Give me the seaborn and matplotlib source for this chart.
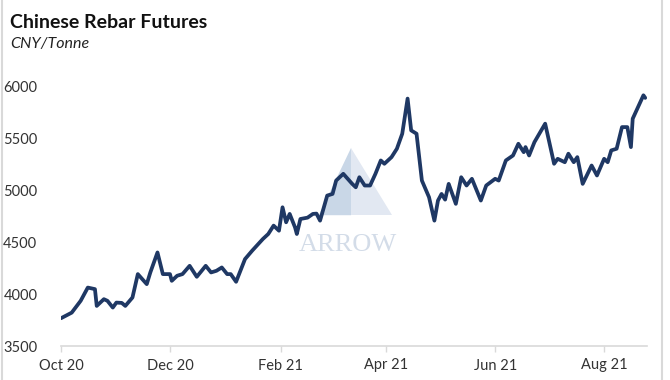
import matplotlib.pyplot as plt
from matplotlib.patches import Polygon
from matplotlib.lines import Line2D
import seaborn as sns
import pandas as pd

# Rebar futures, CNY per tonne
dates = [
    "2020-10-01", "2020-10-07", "2020-10-12", "2020-10-16", "2020-10-20", "2020-10-21",
    "2020-10-25", "2020-10-27", "2020-10-30", "2020-11-01", "2020-11-04", "2020-11-06",
    "2020-11-10", "2020-11-13", "2020-11-18", "2020-11-20", "2020-11-24", "2020-11-27",
    "2020-12-01", "2020-12-02", "2020-12-05", "2020-12-08", "2020-12-12", "2020-12-16",
    "2020-12-21", "2020-12-24", "2020-12-27", "2020-12-30", "2021-01-02", "2021-01-04",
    "2021-01-07", "2021-01-12", "2021-01-16", "2021-01-22", "2021-01-25", "2021-01-28",
    "2021-01-31", "2021-02-02", "2021-02-04", "2021-02-06", "2021-02-09", "2021-02-10",
    "2021-02-12", "2021-02-16", "2021-02-19", "2021-02-21", "2021-02-23", "2021-02-27",
    "2021-03-02", "2021-03-04", "2021-03-08", "2021-03-13", "2021-03-15", "2021-03-17",
    "2021-03-20", "2021-03-23", "2021-03-26", "2021-03-29", "2021-03-31", "2021-04-04",
    "2021-04-07", "2021-04-10", "2021-04-13", "2021-04-15", "2021-04-18", "2021-04-21",
    "2021-04-25", "2021-04-28", "2021-04-30", "2021-05-02", "2021-05-04", "2021-05-06",
    "2021-05-10", "2021-05-13", "2021-05-16", "2021-05-19", "2021-05-24", "2021-05-27",
    "2021-06-01", "2021-06-03", "2021-06-07", "2021-06-11", "2021-06-14", "2021-06-17",
    "2021-06-18", "2021-06-20", "2021-06-23", "2021-06-29", "2021-07-04", "2021-07-06",
    "2021-07-10", "2021-07-12", "2021-07-15", "2021-07-17", "2021-07-20", "2021-07-25",
    "2021-07-28", "2021-08-01", "2021-08-03", "2021-08-05", "2021-08-08", "2021-08-11",
    "2021-08-14", "2021-08-16", "2021-08-17", "2021-08-23", "2021-08-24",
]
prices = [
    3768, 3822, 3936, 4064, 4049, 3887,
    3952, 3936, 3871, 3919, 3916, 3887,
    3968, 4194, 4097, 4210, 4403, 4194,
    4194, 4129, 4178, 4194, 4274, 4168,
    4274, 4210, 4226, 4258, 4194, 4194,
    4120, 4339, 4420, 4533, 4581, 4662,
    4613, 4839, 4694, 4775, 4645, 4581,
    4726, 4739, 4775, 4778, 4710, 4952,
    4968, 5097, 5162, 5065, 5032, 5129,
    5049, 5049, 5162, 5291, 5259, 5323,
    5404, 5549, 5888, 5581, 5549, 5097,
    4936, 4710, 4904, 4968, 4913, 5065,
    4872, 5129, 5049, 5114, 4904, 5049,
    5114, 5097, 5291, 5339, 5452, 5371,
    5420, 5339, 5468, 5646, 5259, 5307,
    5274, 5356, 5274, 5323, 5065, 5242,
    5146, 5307, 5274, 5388, 5404, 5613,
    5613, 5420, 5694, 5920, 5895,
]
tick_dates = ["2020-10-01", "2020-12-01", "2021-02-01", "2021-04-01", "2021-06-01", "2021-08-01"]
tick_labels = ["Oct 20", "Dec 20", "Feb 21", "Apr 21", "Jun 21", "Aug 21"]
y_ticks = [3500, 4000, 4500, 5000, 5500, 6000]

df = pd.DataFrame({"date": pd.to_datetime(dates), "price": prices})

sns.set_theme(style="white")
plt.rcParams['font.family'] = ['Lato', 'DejaVu Sans']

fig = plt.figure(figsize=(6.7, 3.8), dpi=100)
ax = fig.add_axes([61 / 670, 1 - 346 / 380, (647 - 61) / 670, (346 - 87) / 380])

# faint ARROW watermark behind the line
ax.add_patch(Polygon([[0.495, 0.765], [0.44, 0.505], [0.495, 0.505]], closed=True,
                     transform=ax.transAxes, facecolor="#c9d7e7", edgecolor="none", zorder=0))
ax.add_patch(Polygon([[0.495, 0.765], [0.495, 0.505], [0.565, 0.505]], closed=True,
                     transform=ax.transAxes, facecolor="#e2e8f2", edgecolor="none", zorder=0))
ax.text(0.49, 0.39, "ARROW", transform=ax.transAxes, ha="center", va="center",
        fontsize=19, color="#d3dce8", family=["Liberation Serif", "DejaVu Serif"], zorder=0)

sns.lineplot(data=df, x="date", y="price", ax=ax, color="#1f3864", linewidth=2.7, zorder=3)

ax.set_ylim(3500, 6000)
ax.set_xlim(pd.Timestamp("2020-10-01"), pd.Timestamp("2021-08-25"))
ax.set_yticks(y_ticks)
ax.set_yticklabels([str(v) for v in y_ticks], fontsize=10.5, color="#333333")
ax.set_xticks(pd.to_datetime(tick_dates))
ax.set_xticklabels(tick_labels, fontsize=10.5, color="#333333")
ax.set_xlabel("")
ax.set_ylabel("")
ax.tick_params(axis="y", length=0, pad=17)
ax.tick_params(axis="x", length=4, width=1, color="#d9d9d9", pad=5, direction="out", bottom=True)

for s in ["top", "right", "left"]:
    ax.spines[s].set_visible(False)
ax.spines["bottom"].set_color("#d9d9d9")
ax.spines["bottom"].set_linewidth(1.2)

fig.text(10 / 670, 1 - 22 / 380, "Chinese Rebar Futures", fontsize=14, fontweight="bold",
         color="#111111", ha="left", va="center")
fig.text(10 / 670, 1 - 44 / 380, "CNY/Tonne", fontsize=11.5, style="italic",
         color="#222222", ha="left", va="center")

# light frame lines at the left and right edges
fig.add_artist(Line2D([2 / 670, 2 / 670], [0, 1], transform=fig.transFigure, color="#d9d9d9", lw=1.5))
fig.add_artist(Line2D([662 / 670, 662 / 670], [0, 1], transform=fig.transFigure, color="#d9d9d9", lw=1.5))

fig.savefig("out.png", dpi=100)
